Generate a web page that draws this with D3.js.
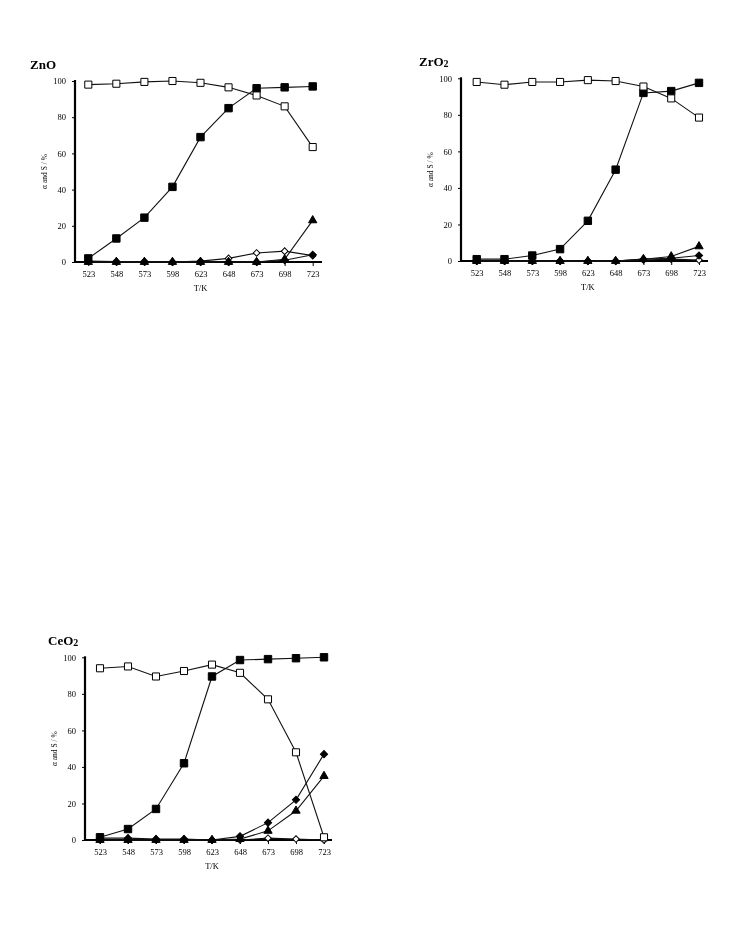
<!DOCTYPE html>
<html><head><meta charset="utf-8">
<script src="https://cdn.jsdelivr.net/npm/d3@7"></script>
<style>body{margin:0;background:#fff}svg{display:block;will-change:transform}</style>
</head><body>
<svg id="c" width="735" height="936"></svg>
<script>
const temps = [523, 548, 573, 598, 623, 648, 673, 698, 723];
const yTicks = [0, 20, 40, 60, 80, 100];

const znoOpenSq  = [98, 98.5, 99.5, 100, 99, 96.5, 92, 86, 63.5];
const znoFillSq  = [2, 13, 24.5, 41.5, 69, 85, 96, 96.5, 97];
const znoFillTri = [0, 0, 0, 0, 0, 0, 0, 1.5, 23];
const znoFillDia = [0.5, 0.3, 0.3, 0, 0, 0, 0, 1, 4];
const znoOpenDia = [0.3, 0, 0, 0, 0.5, 2, 5, 6, 3.5];

const zroOpenSq  = [98, 96.5, 98, 98, 99, 98.5, 95.5, 89, 78.5];
const zroFillSq  = [1, 1, 3, 6.5, 22, 50, 92, 93, 97.5];
const zroFillTri = [0, 0, 0, 0, 0, 0, 1, 2.5, 8];
const zroFillDia = [0, 0, 0, 0, 0, 0, 1, 1.5, 3];
const zroOpenDia = [0, 0, 0, 0, 0, 0, 0.5, 1, 0.5];

const ceoOpenSq  = [94, 95, 89.5, 92.5, 96, 91.5, 77, 48, 1.5];
const ceoFillSq  = [1.5, 6, 17, 42, 89.5, 98.5, 99, 99.5, 100];
const ceoFillTri = [0, 0, 0, 0, 0, 0.5, 5, 16, 35];
const ceoFillDia = [1, 1, 0.5, 0.5, 0, 2, 9.5, 22, 47];
const ceoOpenDia = [0, 0, 0, 0, 0, 0, 1, 0.5, 0];

const panels = [
  {title: "ZnO", sub: "", ax: 75, y0: 262, y100: 81, x523: 88.3, x723: 312.7, xEnd: 322,
   tx: 30, ty: 69, s: [znoOpenSq, znoFillSq, znoFillTri, znoFillDia, znoOpenDia]},
  {title: "ZrO", sub: "2", ax: 461, y0: 261, y100: 78.3, x523: 476.7, x723: 699, xEnd: 708,
   tx: 419, ty: 66, s: [zroOpenSq, zroFillSq, zroFillTri, zroFillDia, zroOpenDia]},
  {title: "CeO", sub: "2", ax: 85, y0: 840, y100: 657.3, x523: 100, x723: 324, xEnd: 332,
   tx: 48, ty: 645, s: [ceoOpenSq, ceoFillSq, ceoFillTri, ceoFillDia, ceoOpenDia]}
];
const markerKinds = [
  {sym: d3.symbolSquare, size: 50, fill: "#fff", rot: 0},
  {sym: d3.symbolSquare, size: 55, fill: "#000", rot: 0},
  {sym: d3.symbolTriangle, size: 30, fill: "#000", rot: 0},
  {sym: d3.symbolSquare, size: 26, fill: "#000", rot: 45},
  {sym: d3.symbolSquare, size: 22, fill: "#fff", rot: 45}
];
const serif = "'Liberation Serif','DejaVu Serif',serif";
const svg = d3.select("#c");

panels.forEach(p => {
  const g = svg.append("g");
  const x = d3.scalePoint().domain(temps).range([p.x523, p.x723]);
  const y = d3.scaleLinear().domain([0, 100]).range([p.y0, p.y100]);

  const t = g.append("text").attr("x", p.tx).attr("y", p.ty)
    .attr("font-family", serif).attr("font-weight", "bold").attr("font-size", 13).attr("fill", "#000").text(p.title);
  if (p.sub) t.append("tspan").attr("font-size", 10).attr("dy", 1).text(p.sub);

  const ya = g.append("g").attr("transform", `translate(${p.ax},0)`)
    .call(d3.axisLeft(y).tickValues(yTicks).tickSize(3).tickPadding(6));
  ya.select(".domain").remove();
  ya.selectAll(".tick line").attr("stroke", "#000");
  ya.selectAll("text").attr("font-family", serif).attr("font-size", 8.5).attr("fill", "#000");
  g.append("line").attr("x1", p.ax).attr("x2", p.ax).attr("y1", p.y100 - 1).attr("y2", p.y0 + 1)
    .attr("stroke", "#000").attr("stroke-width", 2.2);

  const xa = g.append("g").attr("transform", `translate(0,${p.y0})`)
    .call(d3.axisBottom(x).tickSize(4).tickPadding(5));
  xa.select(".domain").remove();
  xa.selectAll(".tick line").attr("stroke", "#000");
  xa.selectAll("text").attr("font-family", serif).attr("font-size", 8.5).attr("fill", "#000");
  g.append("line").attr("x1", p.ax - 1).attr("x2", p.xEnd).attr("y1", p.y0).attr("y2", p.y0)
    .attr("stroke", "#000").attr("stroke-width", 2.2);

  g.append("text").attr("x", (p.x523 + p.x723) / 2).attr("y", p.y0 + 29)
    .attr("text-anchor", "middle").attr("font-family", serif).attr("font-size", 8.5).attr("fill", "#000").text("T/K");
  g.append("text").attr("transform", `translate(${p.ax - 28},${(p.y0 + p.y100) / 2}) rotate(-90)`)
    .attr("text-anchor", "middle").attr("font-family", serif).attr("font-size", 7.5).attr("fill", "#000").text("α and S / %");

  const line = d3.line().x((d, i) => x(temps[i])).y(d => y(d));
  [4, 3, 2, 1, 0].forEach(k => {
    g.append("path").datum(p.s[k]).attr("d", line).attr("fill", "none")
      .attr("stroke", "#111").attr("stroke-width", 1.1);
  });
  [4, 3, 2, 1, 0].forEach(k => {
    const m = markerKinds[k];
    g.selectAll(null).data(p.s[k]).enter().append("path")
      .attr("transform", (d, i) => `translate(${x(temps[i])},${y(d)}) rotate(${m.rot})`)
      .attr("d", d3.symbol().type(m.sym).size(m.size))
      .attr("fill", m.fill).attr("stroke", "#000").attr("stroke-width", 1);
  });
});
</script>
</body></html>
